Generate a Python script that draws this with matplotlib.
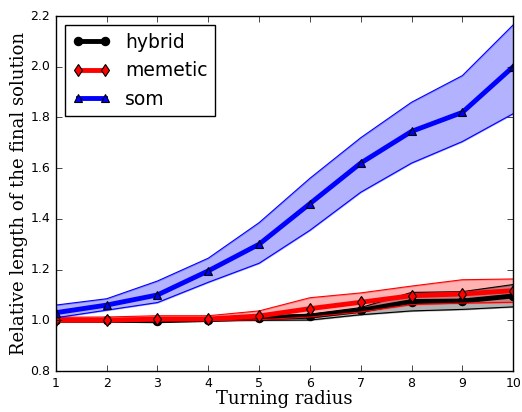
import matplotlib
matplotlib.use("Agg")
import matplotlib.pyplot as plt
import numpy as np

plt.style.use("classic")

x = [1, 2, 3, 4, 5, 6, 7, 8, 9, 10]

hybrid_mean = [1.000, 1.000, 0.998, 1.003, 1.010, 1.016, 1.039, 1.074, 1.076, 1.096]
hybrid_upper = [1.002, 1.002, 1.003, 1.006, 1.015, 1.024, 1.050, 1.110, 1.113, 1.141]
hybrid_lower = [0.997, 0.995, 0.995, 0.998, 1.000, 1.001, 1.022, 1.037, 1.043, 1.053]

memetic_mean = [1.000, 1.000, 1.005, 1.005, 1.017, 1.046, 1.071, 1.097, 1.104, 1.117]
memetic_upper = [1.012, 1.013, 1.018, 1.018, 1.037, 1.089, 1.108, 1.135, 1.160, 1.163]
memetic_lower = [0.997, 0.997, 0.998, 0.999, 1.002, 1.013, 1.033, 1.062, 1.068, 1.071]

som_mean = [1.030, 1.060, 1.100, 1.195, 1.300, 1.460, 1.620, 1.745, 1.820, 2.000]
som_upper = [1.060, 1.085, 1.155, 1.245, 1.385, 1.560, 1.720, 1.860, 1.965, 2.165]
som_lower = [1.010, 1.040, 1.070, 1.150, 1.225, 1.355, 1.505, 1.620, 1.705, 1.815]

series = [
    ("hybrid", hybrid_mean, hybrid_lower, hybrid_upper, "black", "o", "black"),
    ("memetic", memetic_mean, memetic_lower, memetic_upper, "red", "d", "red"),
    ("som", som_mean, som_lower, som_upper, "blue", "^", "blue"),
]

fig = plt.figure(figsize=(5.22, 4.12), dpi=100, facecolor="white")
ax = fig.add_axes([0.107, 0.0995, 0.876, 0.8615])
ax.set_facecolor("white")

for name, m, lo, hi, c, mk, fc in series:
    ax.fill_between(x, lo, hi, facecolor=c, edgecolor=c, alpha=0.3, linewidth=1)
    ax.plot(x, lo, color=c, linewidth=0.8)
    ax.plot(x, hi, color=c, linewidth=0.8)
    ax.plot(x, m, color=c, linewidth=3.5, marker=mk, markersize=6,
            markerfacecolor=fc, markeredgecolor="black", markeredgewidth=0.8,
            label=name)

ax.set_xlim(1, 10)
ax.set_ylim(0.8, 2.2)
ax.set_xticks(x)
ax.set_yticks(np.arange(0.8, 2.21, 0.2))
ax.tick_params(labelsize=9)
ax.set_xlabel("Turning radius", family="DejaVu Serif", fontsize=13, labelpad=0)
ax.set_ylabel("Relative length of the final solution", family="DejaVu Serif",
              fontsize=13, labelpad=2)

leg = ax.legend(loc="upper left", fontsize=13.5, numpoints=2, fancybox=False)
leg.get_frame().set_linewidth(1)

fig.savefig("out.png", dpi=100, facecolor="white")
